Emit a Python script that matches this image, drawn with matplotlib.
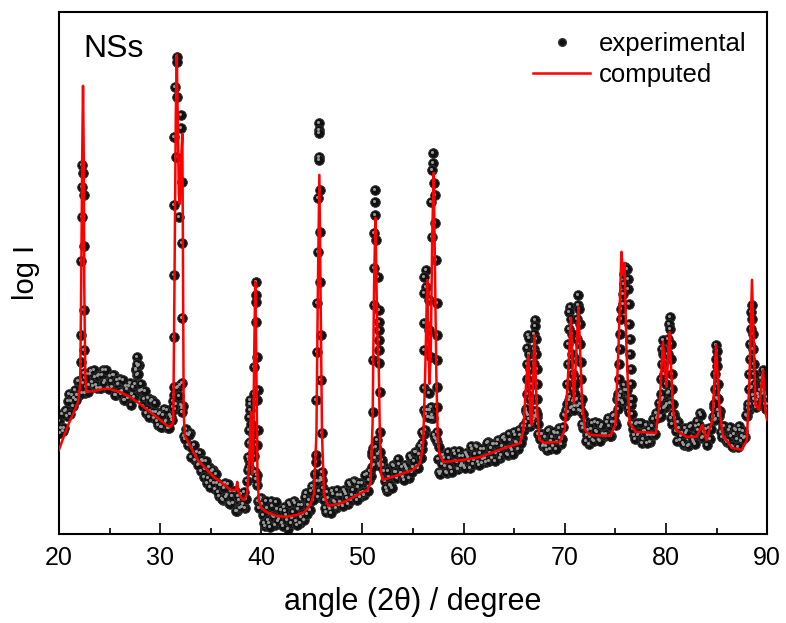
import matplotlib
matplotlib.use("Agg")
import matplotlib.pyplot as plt
import matplotlib.transforms as mtransforms
from matplotlib.lines import Line2D
import numpy as np

plt.rcParams['font.family'] = ['Liberation Sans', 'DejaVu Sans']

# measured pattern, regular scan grid (start / step in degrees 2theta)
scan_start = 20.0
scan_step = 0.2

# measured log I (arbitrary units) at 20.0, 20.2, ... ; one row = 2 degrees
exp_logI = [
    113, 106, 103, 123, 118, 140, 133, 128, 144, 139,   # 20
    139, 154, 151, 141, 160, 149, 163, 148, 157, 146,   # 22
    159, 146, 164, 153, 146, 158, 147, 159, 139, 150,   # 24
    155, 143, 134, 148, 136, 151, 140, 137, 164, 168,   # 26
    143, 144, 135, 121, 136, 123, 134, 116, 122, 109,   # 28
    121, 107, 125, 113, 106, 119, 114, 139, 130, 147,   # 30
    149, 126, 98, 105, 89, 101, 86, 74, 82, 70,         # 32
    63, 73, 65, 51, 67, 53, 64, 45, 51, 38,             # 34
    49, 34, 51, 39, 31, 43, 31, 43, 23, 34,             # 36
    40, 30, 26, 53, 74, 106, 80, 62, 49, 26,            # 38
    36, 19, 8, 26, 11, 33, 18, 9, 25, 15,               # 40
    11, 27, 19, 5, 29, 16, 33, 13, 25, 11,              # 42
    29, 14, 41, 29, 24, 48, 45, 72, 37, 53,             # 44
    54, 34, 22, 36, 25, 43, 33, 26, 39, 32,             # 46
    30, 44, 40, 30, 49, 39, 53, 38, 47, 37,             # 48
    51, 39, 60, 54, 58, 86, 76, 94, 70, 72,             # 50
    69, 53, 43, 57, 48, 69, 62, 56, 70, 61,             # 52
    57, 69, 65, 56, 76, 67, 82, 68, 80, 76,             # 54
    100, 104, 124, 124, 116, 116, 96, 92, 62, 62,       # 56
    79, 68, 61, 76, 66, 83, 73, 65, 78, 70,             # 58
    68, 81, 77, 66, 85, 74, 88, 72, 81, 71,             # 60
    85, 72, 92, 81, 76, 90, 81, 94, 76, 88,             # 62
    97, 86, 79, 94, 84, 102, 92, 85, 99, 96,            # 64
    104, 123, 119, 108, 122, 115, 123, 100, 100, 88,    # 66
    97, 84, 104, 93, 88, 101, 92, 106, 90, 107,         # 68
    118, 122, 134, 126, 133, 128, 135, 124, 123, 106,   # 70
    113, 99, 90, 105, 94, 112, 102, 94, 107, 100,       # 72
    98, 112, 108, 98, 118, 112, 135, 134, 142, 131,     # 74
    144, 126, 135, 111, 99, 110, 99, 111, 91, 103,      # 76
    109, 99, 92, 108, 99, 121, 118, 117, 134, 126,      # 78
    128, 141, 131, 110, 120, 103, 112, 94, 101, 89,     # 80
    101, 88, 107, 97, 92, 108, 104, 121, 96, 102,       # 82
    105, 98, 95, 117, 114, 136, 118, 102, 108, 96,      # 84
    92, 104, 98, 87, 105, 95, 108, 93, 103, 97,         # 86
    118, 124, 146, 139, 130, 134, 137, 156, 144, 141,   # 88
    130,
]

# measured log I at 20.1, 20.3, ... 89.9
exp_logI_odd = [
    101, 120, 106, 124, 133, 120, 139, 136, 134, 153,   # 20
    153, 141, 161, 147, 142, 160, 152, 164, 149, 158,   # 22
    146, 159, 151, 164, 145, 153, 159, 139, 154, 142,   # 24
    140, 154, 134, 145, 148, 129, 147, 150, 159, 169,   # 26
    150, 128, 143, 125, 117, 133, 122, 131, 113, 120,   # 28
    107, 119, 111, 124, 106, 117, 133, 125, 146, 138,   # 30
    129, 128, 95, 100, 99, 77, 89, 78, 69, 81,          # 32
    74, 57, 73, 56, 47, 63, 51, 60, 42, 49,             # 34
    35, 46, 37, 50, 30, 38, 43, 23, 38, 26,             # 36
    27, 42, 35, 64, 92, 80, 78, 55, 33, 34,             # 38
    30, 11, 33, 14, 7, 28, 17, 32, 13, 24,              # 40
    8, 23, 14, 31, 11, 22, 31, 9, 29, 17,               # 42
    20, 37, 20, 34, 43, 34, 60, 53, 43, 56,             # 44
    46, 26, 42, 27, 21, 40, 32, 44, 29, 39,             # 46
    28, 42, 36, 51, 34, 44, 52, 34, 51, 41,             # 48
    42, 59, 43, 63, 79, 69, 87, 80, 68, 74,             # 50
    63, 46, 63, 49, 46, 68, 62, 75, 59, 67,             # 52
    54, 67, 62, 78, 62, 73, 82, 66, 88, 85,             # 54
    100, 120, 117, 124, 119, 99, 95, 75, 60, 70,        # 56
    76, 62, 82, 67, 62, 80, 72, 83, 68, 78,             # 58
    66, 79, 73, 88, 70, 80, 87, 69, 85, 75,             # 60
    76, 91, 73, 86, 90, 73, 90, 83, 79, 96,             # 62
    94, 80, 100, 86, 80, 99, 91, 104, 91, 108,          # 64
    108, 121, 115, 124, 112, 118, 117, 95, 100, 90,     # 66
    88, 103, 85, 97, 102, 85, 101, 96, 95, 119,         # 68
    124, 122, 137, 127, 124, 134, 128, 130, 110, 109,   # 70
    93, 104, 97, 111, 93, 103, 111, 93, 109, 99,        # 72
    100, 116, 98, 112, 119, 109, 137, 138, 133, 149,    # 74
    144, 122, 129, 105, 95, 111, 101, 111, 95, 103,     # 76
    91, 105, 99, 115, 100, 116, 131, 118, 136, 127,     # 78
    130, 142, 116, 119, 116, 93, 106, 98, 91, 106,      # 80
    103, 89, 108, 94, 90, 113, 109, 119, 97, 101,       # 82
    89, 106, 105, 127, 115, 124, 123, 97, 108, 94,      # 84
    93, 107, 88, 100, 104, 87, 104, 98, 96, 119,        # 86
    126, 130, 147, 135, 127, 140, 144, 156, 141, 137,   # 88
]

# extra measured points on the flanks of the reflections
peak_2theta = [
    22.30, 22.42, 22.28, 22.45, 22.25, 22.48, 22.22, 22.50, 22.20, 22.52, 22.18, 22.55,
    27.65, 27.70, 27.75, 27.80,
    31.67, 31.66, 31.49, 31.65, 32.05, 32.05, 31.39, 31.56, 32.18, 31.39, 31.88, 32.16,
    31.39, 32.16, 31.39, 32.18, 31.39, 31.29, 32.18,
    38.85, 38.90, 38.85, 38.82, 38.80, 38.75, 38.72, 38.80, 39.00, 39.05,
    39.50, 39.45, 39.48, 39.45, 39.60, 39.25, 39.65, 39.60, 39.65, 39.55, 39.60, 39.25, 39.20,
    45.72, 45.75, 45.70, 45.72, 45.75, 45.78, 45.65, 45.80, 45.62, 45.85, 45.55, 45.90,
    45.50, 45.95, 45.45, 46.00, 45.40, 46.05, 45.35,
    51.20, 51.22, 51.25, 51.15, 51.30, 51.10, 51.55, 51.10, 51.60, 51.65, 51.62, 51.65,
    51.60, 51.05, 51.68, 51.72, 51.00, 51.75, 50.98, 51.78, 50.95,
    56.24, 56.07, 56.24, 56.07, 56.56, 56.07, 56.56, 56.07, 56.73, 56.07, 56.56, 56.73,
    56.56, 56.07, 55.90, 55.90, 55.75,
    57.00, 57.00, 56.90, 57.10, 57.20, 56.73, 57.20, 56.90, 57.30, 57.40, 57.40, 57.40,
    57.40, 57.40, 57.40, 57.56,
    66.35, 66.45, 66.30, 66.50, 66.28, 66.55, 66.25, 66.60, 66.22, 66.60, 66.20, 66.20,
    67.05, 67.10, 67.00, 67.15, 67.00, 67.20, 66.95, 67.22, 66.90, 67.25, 66.85, 67.30,
    67.30, 67.35,
    70.55, 70.45, 70.60, 70.40, 70.70, 70.35, 70.75, 70.30, 70.80, 70.25, 70.85, 70.20, 70.90,
    71.35, 71.30, 71.45, 71.25, 71.50, 71.20, 71.55, 71.15, 71.60, 71.10, 71.65, 71.05,
    71.70, 71.75, 71.00,
    76.00, 76.15, 75.90, 76.20, 75.85, 76.25, 75.80, 75.75, 76.30, 75.60, 75.55, 76.35,
    75.50, 76.40, 75.45, 76.45, 75.40, 76.50, 75.35, 76.55, 75.30, 76.60, 75.25, 76.65,
    80.35, 80.30, 80.40, 80.25, 80.45, 79.70, 79.65, 79.75, 80.20, 80.50, 79.60, 80.55,
    79.55, 80.60, 79.50, 79.85, 80.05, 80.65, 79.45, 80.70,
    84.95, 85.00, 84.90, 85.05, 84.85, 85.10, 84.80, 85.15, 84.75, 85.20, 84.70,
    88.50, 88.45, 88.55, 88.40, 88.60, 88.35, 88.65, 88.30, 88.70, 88.25, 88.75, 88.20,
    88.80, 88.15, 88.85, 88.90,
    89.55, 89.60, 89.50, 89.70, 89.75, 89.45, 89.80, 89.85,
]
peak_logI = [
    369, 361, 347, 339, 317, 288, 273, 224, 199, 184, 172, 156,
    165, 177, 170, 160,
    477, 472, 447, 437, 419, 406, 397, 377, 352, 329, 317, 291,
    259, 216, 197, 151, 147, 127, 122,
    130, 134, 124, 117, 104, 91, 77, 67, 110, 90,
    252, 239, 232, 212, 177, 167, 144, 134, 104, 89, 59, 140, 100,
    411, 404, 401, 377, 374, 344, 336, 302, 282, 252, 231, 199,
    182, 154, 134, 101, 79, 62, 60,
    344, 332, 319, 301, 294, 266, 257, 229, 224, 212, 204, 194,
    184, 174, 171, 142, 122, 102, 82, 82, 67,
    264, 257, 247, 241, 234, 211, 204, 184, 177, 146, 141, 127,
    117, 124, 102, 91, 76,
    381, 371, 364, 351, 339, 332, 311, 297, 274, 231, 199, 174,
    147, 127, 102, 87,
    199, 196, 186, 180, 170, 165, 155, 150, 140, 135, 125, 112,
    214, 208, 200, 195, 185, 180, 170, 165, 150, 150, 135, 135,
    120, 110,
    227, 222, 215, 205, 200, 190, 180, 170, 160, 150, 145, 130, 135,
    239, 229, 225, 215, 210, 195, 190, 175, 172, 155, 155, 140,
    135, 120, 150,
    267, 265, 260, 255, 250, 245, 240, 230, 230, 225, 215, 210,
    200, 195, 185, 180, 170, 165, 155, 150, 140, 135, 125, 120,
    217, 210, 205, 195, 190, 194, 185, 180, 180, 175, 170, 160,
    155, 145, 140, 160, 150, 130, 125, 120,
    189, 183, 175, 168, 160, 150, 145, 135, 130, 120, 118,
    229, 222, 215, 205, 200, 190, 185, 175, 170, 160, 160, 145,
    150, 130, 140, 130,
    164, 158, 150, 150, 140, 140, 130, 125,
]

# computed profile
calc_2theta = [
    20.0, 20.5, 21.0, 21.5, 21.9, 22.1, 22.2, 22.3, 22.38, 22.45, 22.5, 22.6, 22.7,
    23.5, 24.5, 25.0, 26.0, 27.0, 28.0, 29.0, 30.0, 30.6, 31.0, 31.3, 31.42, 31.55,
    31.65, 31.75, 31.85, 31.95, 32.1, 32.2, 32.27, 32.33, 32.45, 33.7, 35.3, 37.0,
    37.5, 37.62, 37.75, 38.0, 38.3, 38.6, 38.8, 38.98, 39.1, 39.2, 39.3, 39.4, 39.5,
    39.62, 39.75, 40.0, 40.5, 41.5, 42.5, 43.5, 44.3, 44.9, 45.2, 45.45, 45.6, 45.74,
    45.85, 46.0, 46.2, 46.6, 48.0, 49.5, 50.5, 50.8, 51.0, 51.15, 51.28, 51.42, 51.52,
    51.6, 51.72, 51.85, 52.0, 53.0, 55.0, 55.7, 56.0, 56.2, 56.4, 56.5, 56.62, 56.75,
    56.9, 57.04, 57.15, 57.3, 57.45, 57.6, 58.0, 60.0, 61.7, 63.5, 65.6, 65.9, 66.2,
    66.4, 66.6, 66.75, 67.0, 67.2, 67.5, 68.0, 69.5, 70.0, 70.3, 70.6, 70.9, 71.35,
    71.7, 72.0, 72.5, 74.5, 75.0, 75.3, 75.6, 75.75, 75.9, 76.1, 76.4, 77.0, 79.0,
    79.4, 79.7, 80.05, 80.35, 80.7, 81.0, 82.0, 83.0, 83.6, 84.0, 84.6, 84.95, 85.3,
    85.6, 86.5, 87.5, 88.0, 88.25, 88.5, 88.85, 89.2, 89.6, 89.85, 90.0,
]
calc_logI = [
    84, 98, 111, 122, 132, 150, 250, 380, 448, 380, 250, 160, 142,
    143, 145, 145, 142, 137, 130, 122, 114, 109, 107, 111, 250, 420,
    479, 410, 340, 330, 380, 400, 250, 120, 98, 74, 57, 44,
    44, 52, 42, 36, 34, 40, 70, 122, 60, 80, 180, 252, 180,
    60, 34, 26, 22, 18, 17, 19, 22, 30, 40, 100, 250, 359,
    250, 100, 40, 28, 31, 39, 44, 51, 110, 250, 316, 230, 180,
    174, 100, 60, 54, 57, 64, 71, 90, 160, 254, 200, 150, 180,
    300, 361, 280, 160, 95, 80, 72, 74, 77, 84, 91, 104, 154,
    179, 114, 109, 199, 134, 94, 91, 92, 104, 154, 216, 131, 227,
    134, 104, 99, 98, 109, 184, 282, 259, 271, 184, 111, 102, 101,
    134, 192, 147, 202, 124, 104, 97, 97, 109, 94, 114, 189, 124,
    99, 86, 84, 94, 154, 254, 129, 124, 164, 121, 114,
]

even_2theta = scan_start + scan_step * np.arange(len(exp_logI))
odd_2theta = scan_start + scan_step / 2 + scan_step * np.arange(len(exp_logI_odd))
exp_2theta = np.concatenate([even_2theta, odd_2theta, peak_2theta])
exp_y = np.concatenate([exp_logI, exp_logI_odd, peak_logI])

fig = plt.figure(figsize=(7.86, 6.23), dpi=100)
ax = fig.add_axes([0.075, 0.143, 0.901, 0.838])

# black spheres with a small light spot
ax.plot(exp_2theta, exp_y, 'o', ms=7, mfc='#111111', mec='#333333', mew=0.6, zorder=2)
spot = mtransforms.offset_copy(ax.transData, fig=fig, x=-1, y=1, units='dots')
ax.plot(exp_2theta, exp_y, 'o', ms=2.2, mfc='#9a9a9a', mec='none', transform=spot, zorder=3)

ax.plot(calc_2theta, calc_logI, color='red', lw=1.8, zorder=4)

ax.set_xlim(20, 90)
ax.set_ylim(0, 522)
ax.set_xticks(np.arange(20, 91, 10))
ax.set_xticks(np.arange(25, 90, 10), minor=True)
ax.set_yticks([])
ax.tick_params(axis='x', which='major', direction='in', length=8, width=1.2,
               labelsize=18, pad=9)
ax.tick_params(axis='x', which='minor', direction='in', length=4, width=1.2)
for s in ax.spines.values():
    s.set_linewidth(1.5)

ax.set_xlabel('angle (2\u03b8) / degree', fontsize=22, labelpad=12)
ax.set_ylabel('log I', fontsize=21, labelpad=14)
ax.text(0.035, 0.958, 'NSs', transform=ax.transAxes, fontsize=23, va='top', ha='left')

handles = [
    Line2D([], [], marker='o', ls='none', ms=5.5, mfc='#111111', mec='#333333'),
    Line2D([], [], color='red', lw=1.8),
]
ax.legend(handles, ['experimental', 'computed'], loc='upper right', frameon=False,
          fontsize=18.5, handlelength=2.2, handletextpad=0.35, labelspacing=0.25,
          borderaxespad=0.4)

fig.savefig('out.png', dpi=100)
